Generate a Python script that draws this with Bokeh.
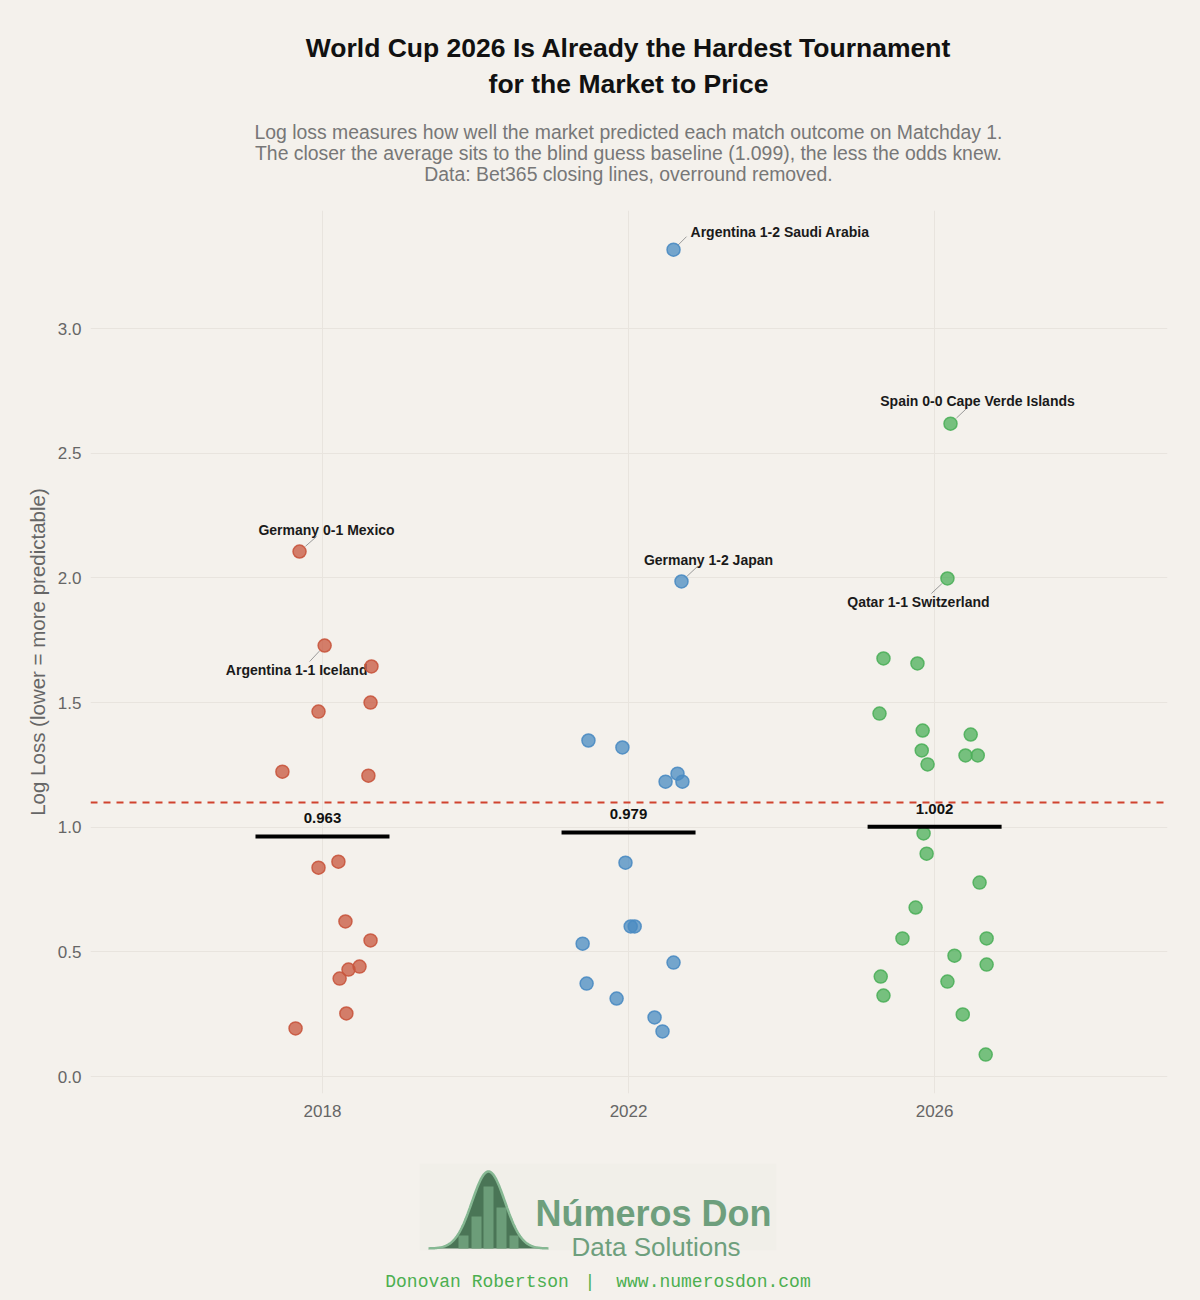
import numpy as np
from bokeh.plotting import figure
from bokeh.layouts import column
from bokeh.models import Range1d, Span, FixedTicker
from bokeh.core.properties import value
from bokeh.embed import file_html
from bokeh.resources import INLINE

# ---------------- data ----------------
years = ["2018", "2022", "2026"]

log_loss_2018 = [2.106, 1.729, 1.645, 1.500, 1.464, 1.223, 1.207, 0.862,
                 0.838, 0.622, 0.546, 0.441, 0.429, 0.393, 0.253, 0.193]
jitter_2018 = [-0.075, 0.007, 0.160, 0.157, -0.013, -0.131, 0.150, 0.052,
               -0.013, 0.075, 0.157, 0.121, 0.085, 0.056, 0.078, -0.088]
labels_2018 = ["Germany 0-1 Mexico", "Argentina 1-1 Iceland"] + [""] * 14

log_loss_2022 = [3.317, 1.986, 1.348, 1.320, 1.215, 1.183, 1.183, 0.858,
                 0.602, 0.602, 0.533, 0.457, 0.373, 0.313, 0.237, 0.181]
jitter_2022 = [0.147, 0.173, -0.131, -0.020, 0.160, 0.121, 0.176, -0.010,
               0.007, 0.020, -0.150, 0.147, -0.137, -0.039, 0.085, 0.111]
labels_2022 = ["Argentina 1-2 Saudi Arabia", "Germany 1-2 Japan"] + [""] * 14

log_loss_2026 = [2.619, 1.998, 1.677, 1.657, 1.456, 1.388, 1.372, 1.308,
                 1.288, 1.288, 1.252, 0.975, 0.894, 0.778, 0.678, 0.554,
                 0.554, 0.485, 0.449, 0.401, 0.381, 0.325, 0.249, 0.088]
jitter_2026 = [0.052, 0.042, -0.167, -0.056, -0.180, -0.039, 0.118, -0.042,
               0.101, 0.141, -0.023, -0.036, -0.026, 0.147, -0.062, -0.105,
               0.170, 0.065, 0.170, -0.176, 0.042, -0.167, 0.092, 0.167]
labels_2026 = ["Spain 0-0 Cape Verde Islands", "Qatar 1-1 Switzerland"] + [""] * 22

means = [0.963, 0.979, 1.002]
baseline = 1.099
y_ticks = [0.0, 0.5, 1.0, 1.5, 2.0, 2.5, 3.0]

series_values = [log_loss_2018, log_loss_2022, log_loss_2026]
series_jitter = [jitter_2018, jitter_2022, jitter_2026]
series_labels = [labels_2018, labels_2022, labels_2026]
colors = ["#c8553d", "#4a8bc2", "#4caf5a"]

# label placement (screen px: dx right, dy down), connector end, alignment
label_style = {
    "Germany 0-1 Mexico": (27, -22, 17, -15, "center"),
    "Argentina 1-1 Iceland": (-28, 24, -15, 16, "center"),
    "Argentina 1-2 Saudi Arabia": (17, -18, 13, -13, "left"),
    "Germany 1-2 Japan": (27, -21, 16, -15, "center"),
    "Spain 0-0 Cape Verde Islands": (27, -23, 17, -16, "center"),
    "Qatar 1-1 Switzerland": (-29, 24, -16, 15, "center"),
}

BG = "#f4f1ec"
FONT = "Liberation Sans"

# ---------------- main plot ----------------
X0, X1 = -0.758, 2.761
Y0, Y1 = -0.068, 3.474
FRAME_LEFT, FRAME_RIGHT = 90, 1167
FRAME_W, FRAME_H = FRAME_RIGHT - FRAME_LEFT, 883
PX_X = FRAME_W / (X1 - X0)
PX_Y = FRAME_H / (Y1 - Y0)

p = figure(width=1200, height=935, title=None, output_backend="svg",
           toolbar_location=None, x_range=Range1d(X0, X1), y_range=Range1d(Y0, Y1),
           min_border_left=FRAME_LEFT, min_border_right=1200 - FRAME_RIGHT,
           min_border_top=0, min_border_bottom=52)
p.background_fill_color = None
p.border_fill_color = BG
p.outline_line_color = None

p.xaxis.ticker = FixedTicker(ticks=[0, 1, 2])
p.xaxis.major_label_overrides = {i: y for i, y in enumerate(years)}
p.yaxis.ticker = FixedTicker(ticks=y_ticks)
p.yaxis.major_label_overrides = {t: f"{t:.1f}" for t in y_ticks}
for ax in (p.xaxis, p.yaxis):
    ax.axis_line_color = None
    ax.major_tick_line_color = None
    ax.minor_tick_line_color = None
    ax.major_tick_out = 0
    ax.major_tick_in = 0
    ax.minor_tick_out = 0
    ax.major_label_text_font = FONT
    ax.major_label_text_font_size = "17px"
    ax.major_label_text_color = "#666666"
p.xaxis.major_label_standoff = 11
p.yaxis.major_label_standoff = 9
p.yaxis.axis_label = "Log Loss (lower = more predictable)"
p.yaxis.axis_label_text_font = FONT
p.yaxis.axis_label_text_font_style = "normal"
p.yaxis.axis_label_text_font_size = "20.5px"
p.yaxis.axis_label_text_color = "#666666"
p.yaxis.axis_label_standoff = 6

p.xgrid.ticker = FixedTicker(ticks=[0, 1, 2])
p.ygrid.ticker = FixedTicker(ticks=y_ticks)
p.xgrid.grid_line_color = "#e8e4de"
p.ygrid.grid_line_color = "#e8e4de"

p.add_layout(Span(location=baseline, dimension="width", line_color="#d0432e",
                  line_width=2, line_dash="7 6"))

for i, (vals, jit, labs, col) in enumerate(zip(series_values, series_jitter,
                                               series_labels, colors)):
    xs = [i + j for j in jit]
    # connectors and annotation labels
    for x, v, lab in zip(xs, vals, labs):
        if not lab:
            continue
        dx, dy, ex, ey, align = label_style[lab]
        p.segment(x0=[x + (ex * 0.35) / PX_X], y0=[v - (ey * 0.35) / PX_Y],
                  x1=[x + ex / PX_X], y1=[v - ey / PX_Y],
                  line_color="#9a9a9a", line_width=1)
        p.text(x=[x + dx / PX_X], y=[v - dy / PX_Y], text=[lab],
               text_font=value(FONT), text_font_style="bold",
               text_font_size="14px", text_color="#1a1a1a",
               text_align=align, text_baseline="middle")
    p.scatter(x=xs, y=vals, size=13, fill_color=col, fill_alpha=0.75,
              line_color=col, line_alpha=0.9, line_width=1.5)
    # mean bar + label
    half = 67 / PX_X
    p.segment(x0=[i - half], y0=[means[i]], x1=[i + half], y1=[means[i]],
              line_color="#000000", line_width=4)
    p.text(x=[i], y=[means[i] + 18 / PX_Y], text=[f"{means[i]:.3f}"],
           text_font=value(FONT), text_font_style="bold",
           text_font_size="15px", text_color="#111111",
           text_align="center", text_baseline="middle")


def blank_figure(height, y_top, y_bottom):
    # the column aligns every frame with the main plot's frame,
    # so the x range maps page pixels FRAME_LEFT..FRAME_RIGHT
    fig = figure(width=1200, height=height, title=None, output_backend="svg",
                 toolbar_location=None, x_range=Range1d(FRAME_LEFT, FRAME_RIGHT),
                 y_range=Range1d(y_bottom, y_top), min_border=0,
                 x_axis_location=None, y_axis_location=None)
    fig.grid.visible = False
    fig.background_fill_color = None
    fig.border_fill_color = BG
    fig.outline_line_color = None
    return fig


# ---------------- header ----------------
h = blank_figure(210, 0, 210)
title_lines = ["World Cup 2026 Is Already the Hardest Tournament",
               "for the Market to Price"]
subtitle_lines = ["Log loss measures how well the market predicted each match outcome on Matchday 1.",
                  "The closer the average sits to the blind guess baseline (1.099), the less the odds knew.",
                  "Data: Bet365 closing lines, overround removed."]
h.text(x=[628, 628], y=[47, 83], text=title_lines, text_font=value(FONT),
       text_font_style="bold", text_font_size="26.5px", text_color="#111111",
       text_align="center", text_baseline="middle")
h.text(x=[628, 628, 628], y=[131, 152, 173], text=subtitle_lines,
       text_font=value(FONT), text_font_size="19.4px", text_color="#777777",
       text_align="center", text_baseline="middle")

# ---------------- footer with logo ----------------
f = blank_figure(155, 1145, 1300)

f.quad(left=[419], right=[776], top=[1163], bottom=[1250],
       fill_color="#f1efe9", line_color=None)
bx = np.linspace(428, 548, 120)
by = 1248 - 77 * np.exp(-0.5 * ((bx - 488) / 16.5) ** 2)
f.patch(x=list(bx) + [548, 428], y=list(by) + [1248, 1248],
        fill_color="#4a7556", line_color=None)
f.quad(left=[458, 471, 483, 496, 509], right=[468, 481, 493, 506, 518],
       top=[1235, 1216, 1186, 1207, 1235], bottom=[1248] * 5,
       fill_color="#6c9d79", line_color=None)
f.line(x=bx, y=by, line_color="#86b893", line_width=2.5)
f.text(x=[535], y=[1213], text=["Números Don"], text_font=value(FONT),
       text_font_style="bold", text_font_size="36px", text_color="#6e9f7d",
       text_align="left", text_baseline="alphabetic")
f.text(x=[571], y=[1246], text=["Data Solutions"], text_font=value(FONT),
       text_font_size="26px", text_color="#6e9f7d",
       text_align="left", text_baseline="alphabetic")

credit_parts = ["Donovan Robertson", "|", "www.numerosdon.com"]
cw = 10.5
start = 600 - 41 * cw / 2
f.text(x=[start, start + 19.5 * cw, start + 22 * cw], y=[1281] * 3,
       text=credit_parts, text_font=value("Liberation Mono"),
       text_font_size="18px", text_color="#4caf50",
       text_align=["left", "center", "left"], text_baseline="middle")

layout = column(h, p, f, spacing=0)
layout.styles = {"background-color": BG}
open("out.html", "w").write(file_html(layout, INLINE))
